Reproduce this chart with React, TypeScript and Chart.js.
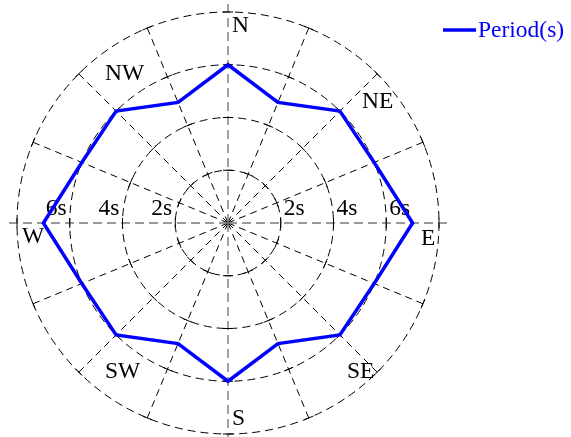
import React, { useEffect, useRef } from 'react';
import { Chart, registerables } from 'chart.js';

Chart.register(...registerables);

const directions = ['N', 'NNE', 'NE', 'ENE', 'E', 'ESE', 'SE', 'SSE', 'S', 'SSW', 'SW', 'WSW', 'W', 'WNW', 'NW', 'NNW'];
const periods = [6.0, 4.95, 6.0, 6.0, 7.0, 6.0, 6.0, 4.95, 6.0, 4.95, 6.0, 6.0, 7.0, 6.0, 6.0, 4.95];
const radialTicks = [2, 4, 6, 8];
const radialTickLabels = ['2s', '4s', '6s'];
const compassLabels = ['N', 'NE', 'E', 'SE', 'S', 'SW', 'W', 'NW'];
const seriesName = 'Period(s)';

const FONT = '23.5px "Liberation Serif", "Times New Roman", serif';
const BLUE = '#0000ff';

// offsets (left, baseline) of compass labels relative to the centre
const compassOffsets: [number, number][] = [
  [4, -191], [134, -115], [193, 22], [119, 155], [4, 202], [-123, 155], [-206, 20], [-123, -143],
];

const decorPlugin = {
  id: 'decor',
  beforeDatasetsDraw(chart: any) {
    const s = chart.scales.r;
    const ctx = chart.ctx as CanvasRenderingContext2D;
    const cx = s.xCenter;
    const cy = s.yCenter;
    const R = s.drawingArea;
    ctx.save();
    // main N-S / E-W axes (grey, longer dashes, extend past the rim)
    ctx.strokeStyle = '#7a7a7a';
    ctx.lineWidth = 1.4;
    ctx.setLineDash([9, 5]);
    [0, 4, 8, 12].forEach((i) => {
      const p = s.getPointPosition(i, R + 8);
      ctx.beginPath();
      ctx.moveTo(cx, cy);
      ctx.lineTo(p.x, p.y);
      ctx.stroke();
    });
    // tick marks where spokes cross the circles
    ctx.setLineDash([]);
    ctx.strokeStyle = '#000';
    ctx.lineWidth = 1;
    for (let i = 0; i < directions.length; i++) {
      const a = s.getIndexAngle(i) - Math.PI / 2;
      const tx = -Math.sin(a);
      const ty = Math.cos(a);
      radialTicks.forEach((v) => {
        const d = s.getDistanceFromCenterForValue(v);
        const p = s.getPointPosition(i, d);
        ctx.beginPath();
        ctx.moveTo(p.x - tx * 5, p.y - ty * 5);
        ctx.lineTo(p.x + tx * 5, p.y + ty * 5);
        ctx.stroke();
      });
    }
    // radial tick labels on both sides
    ctx.font = FONT;
    ctx.fillStyle = '#000';
    ctx.textBaseline = 'alphabetic';
    radialTickLabels.forEach((lab, k) => {
      const d = s.getDistanceFromCenterForValue(radialTicks[k]);
      ctx.textAlign = 'left';
      ctx.fillText(lab, cx + d + 3, cy - 8);
      ctx.textAlign = 'right';
      ctx.fillText(lab, cx - d - 3, cy - 8);
    });
    // compass labels
    ctx.textAlign = 'left';
    compassLabels.forEach((lab, k) => {
      const [dx, dy] = compassOffsets[k];
      ctx.fillText(lab, cx + dx, cy + dy);
    });
    ctx.restore();
  },
  afterDraw(chart: any) {
    const ctx = chart.ctx as CanvasRenderingContext2D;
    const x0 = chart.chartArea.right + 3;
    const y0 = 30;
    ctx.save();
    ctx.strokeStyle = BLUE;
    ctx.lineWidth = 3.5;
    ctx.setLineDash([]);
    ctx.beginPath();
    ctx.moveTo(x0, y0);
    ctx.lineTo(x0 + 33, y0);
    ctx.stroke();
    ctx.font = FONT;
    ctx.fillStyle = BLUE;
    ctx.textAlign = 'left';
    ctx.textBaseline = 'alphabetic';
    ctx.fillText(seriesName, x0 + 35, 37);
    ctx.restore();
  },
};

export default function App() {
  const ref = useRef<HTMLCanvasElement | null>(null);
  useEffect(() => {
    if (!ref.current) return;
    const chart = new Chart(ref.current, {
      type: 'radar',
      data: {
        labels: directions,
        datasets: [
          {
            label: seriesName,
            data: periods,
            borderColor: BLUE,
            backgroundColor: BLUE,
            borderWidth: 3.5,
            pointRadius: 0,
            fill: false,
            tension: 0,
          },
        ],
      },
      options: {
        animation: false,
        responsive: true,
        maintainAspectRatio: false,
        layout: { padding: { left: 17, top: 12, right: 131, bottom: 2 } },
        plugins: { legend: { display: false }, tooltip: { enabled: false } },
        scales: {
          r: {
            min: 0,
            max: 8,
            ticks: { stepSize: 2, display: false },
            pointLabels: { display: false },
            grid: { circular: true, color: '#000', lineWidth: 1 },
            border: { dash: [8, 5] },
            angleLines: {
              color: (c: any) => (c.index % 4 === 0 ? 'rgba(0,0,0,0)' : '#000'),
              lineWidth: 1,
              borderDash: [7, 5],
            },
          },
        },
      },
      plugins: [decorPlugin],
    });
    return () => chart.destroy();
  }, []);
  return (
    <div style={{ position: 'absolute', left: 0, top: 0, width: 571, height: 437 }}>
      <canvas ref={ref} />
    </div>
  );
}
